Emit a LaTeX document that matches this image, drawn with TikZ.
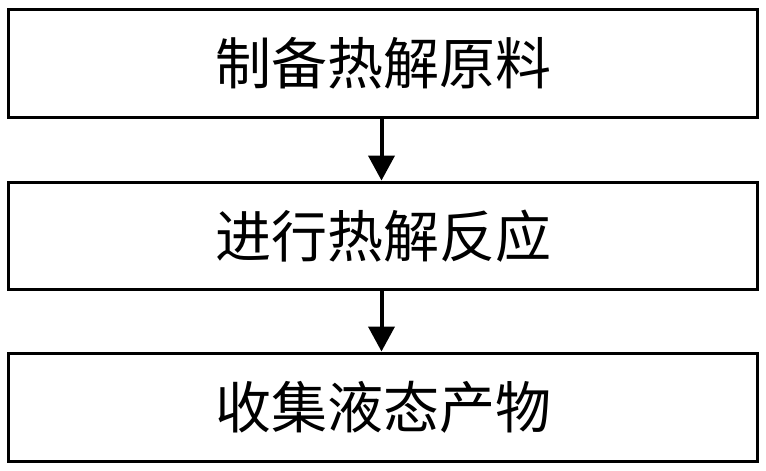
\documentclass[tikz,border=0pt]{standalone}
\usepackage{fontspec}
\newfontfamily\cjk{Noto Sans CJK SC}
\usetikzlibrary{arrows.meta}
\begin{document}
\begin{tikzpicture}[x=1pt,y=-1pt,
  stepbox/.style={draw=black,line width=3pt,minimum width=749pt,inner sep=0pt,font=\cjk\fontsize{56}{64}\selectfont},
  flow/.style={line width=4pt,-{Triangle[width=26pt,length=25pt]}}]
\useasboundingbox (0,0) rectangle (766,471);
\node[stepbox,minimum height=108pt] (a) at (383,63.5) {制备热解原料};
\node[stepbox,minimum height=107.5pt] (b) at (383,235.8) {进行热解反应};
\node[stepbox,minimum height=108pt] (c) at (383,407) {收集液态产物};
\draw[flow] (a.south -| 381.5,0) -- (b.north -| 381.5,0);
\draw[flow] (b.south -| 381.5,0) -- (c.north -| 381.5,0);
\end{tikzpicture}
\end{document}
